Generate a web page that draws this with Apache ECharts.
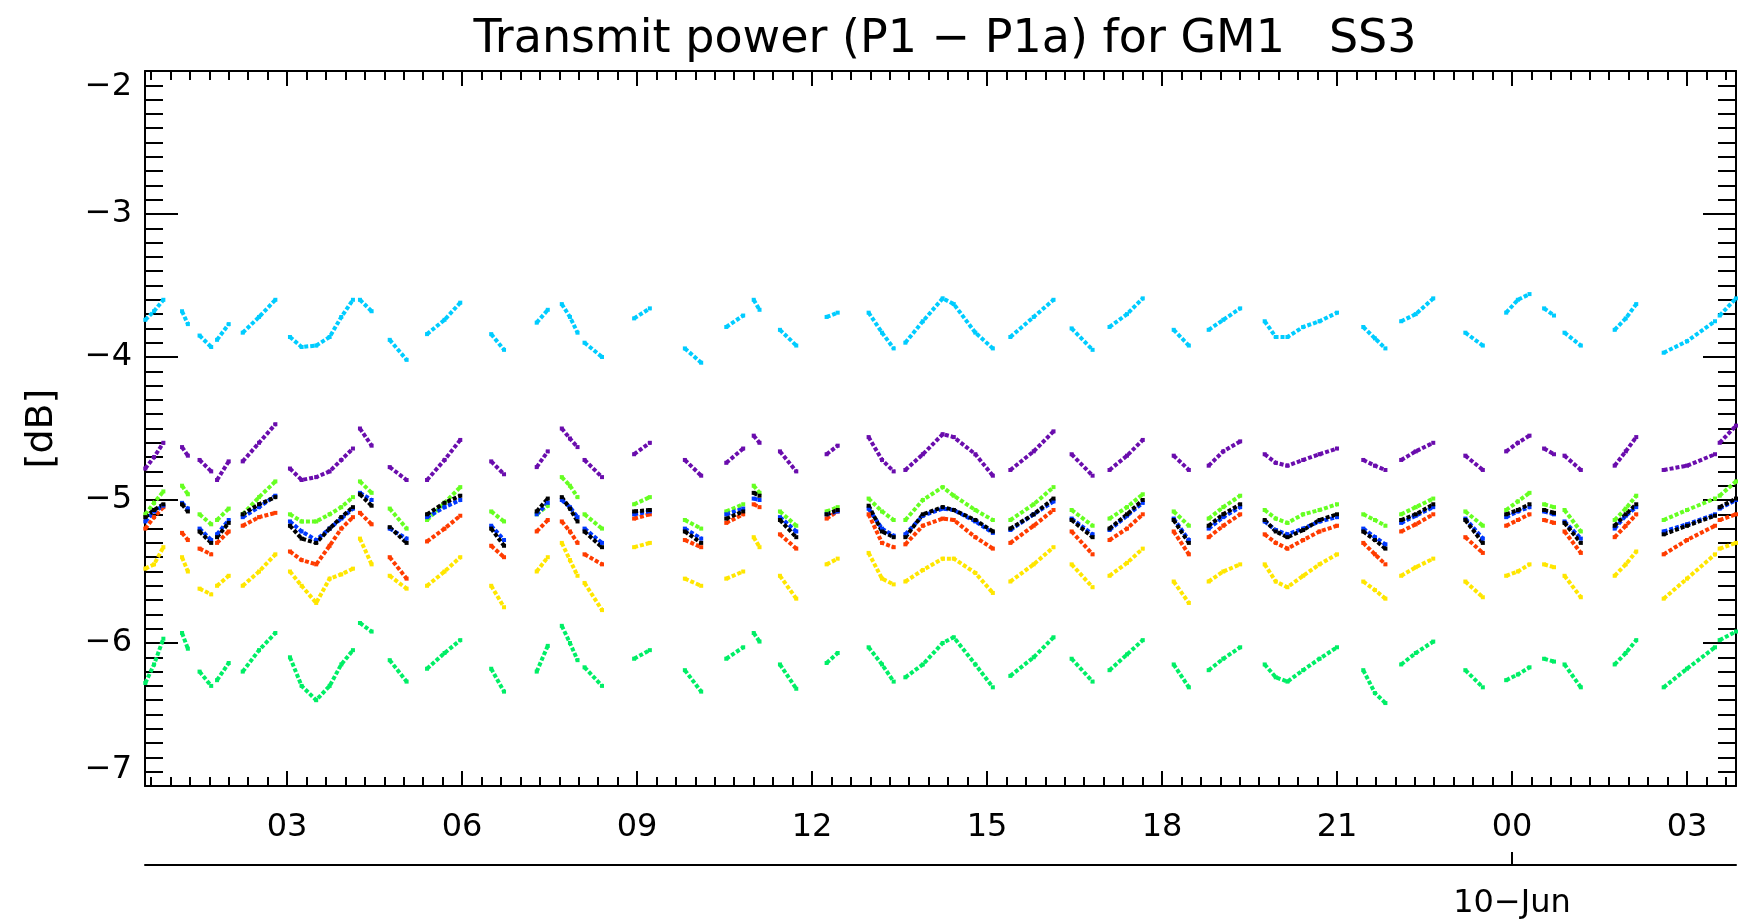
<!DOCTYPE html>
<html>
<head>
<meta charset="utf-8">
<script src="https://cdn.jsdelivr.net/npm/echarts@6/dist/echarts.min.js"></script>
<style>
  html, body { margin: 0; padding: 0; background: #ffffff; }
  #chart { width: 1739px; height: 920px; }
</style>
</head>
<body>
<div id="chart"></div>
<script>
// Sample times of each pass, in hours since 9 Jun 00:00 UTC
const passHours = [
  [0.57, 0.72, 0.88],
  [1.20, 1.30],
  [1.50, 1.70],
  [1.80, 2.00],
  [2.24, 2.52, 2.80],
  [3.05, 3.25, 3.50, 3.73, 3.93, 4.13],
  [4.25, 4.45],
  [4.76, 5.05],
  [5.40, 5.70, 5.97],
  [6.50, 6.72],
  [7.28, 7.47],
  [7.71, 7.85, 7.98],
  [8.10, 8.40],
  [8.95, 9.22],
  [9.82, 10.10],
  [10.53, 10.82],
  [11.00, 11.10],
  [11.45, 11.73],
  [12.25, 12.44],
  [12.97, 13.20, 13.40],
  [13.60, 13.90, 14.24, 14.43, 14.80, 15.10],
  [15.40, 15.80, 16.14],
  [16.45, 16.81],
  [17.10, 17.40, 17.67],
  [18.20, 18.46],
  [18.80, 19.05, 19.34],
  [19.76, 19.95, 20.15, 20.42, 20.70, 21.00],
  [21.45, 21.65, 21.83],
  [22.10, 22.35, 22.65],
  [23.20, 23.50],
  [23.90, 24.10, 24.30],
  [24.55, 24.72],
  [24.90, 25.18],
  [25.76, 25.95, 26.13],
  [26.60, 27.00, 27.48],
  [27.56, 27.84]
];

// Transmit power difference per channel [dB], one row per pass
const cyanDb = [
  [-3.74, -3.68, -3.60], [-3.68, -3.77], [-3.85, -3.93], [-3.88, -3.77], [-3.83, -3.72, -3.60],
  [-3.86, -3.93, -3.92, -3.86, -3.72, -3.60], [-3.60, -3.68], [-3.88, -4.02], [-3.84, -3.74, -3.62],
  [-3.84, -3.95], [-3.76, -3.67], [-3.63, -3.72, -3.83], [-3.90, -4.00],
  [-3.73, -3.66], [-3.94, -4.04], [-3.79, -3.71], [-3.60, -3.67], [-3.81, -3.92], [-3.72, -3.69],
  [-3.69, -3.83, -3.94], [-3.90, -3.75, -3.59, -3.63, -3.83, -3.94], [-3.86, -3.72, -3.60],
  [-3.80, -3.95], [-3.79, -3.70, -3.59], [-3.81, -3.92], [-3.81, -3.74, -3.66],
  [-3.75, -3.86, -3.86, -3.79, -3.75, -3.69], [-3.79, -3.87, -3.94], [-3.75, -3.70, -3.59],
  [-3.83, -3.92], [-3.69, -3.60, -3.56], [-3.66, -3.71], [-3.83, -3.92], [-3.81, -3.73, -3.63],
  [-3.97, -3.89, -3.75], [-3.71, -3.59]
];
const purpleDb = [
  [-4.78, -4.70, -4.60], [-4.63, -4.69], [-4.72, -4.80], [-4.86, -4.73], [-4.73, -4.60, -4.47],
  [-4.78, -4.86, -4.84, -4.80, -4.72, -4.64], [-4.50, -4.62], [-4.77, -4.86], [-4.86, -4.72, -4.58],
  [-4.73, -4.82], [-4.77, -4.66], [-4.50, -4.57, -4.63], [-4.72, -4.84],
  [-4.68, -4.60], [-4.72, -4.83], [-4.74, -4.64], [-4.55, -4.60], [-4.66, -4.80], [-4.68, -4.62],
  [-4.56, -4.72, -4.80], [-4.79, -4.68, -4.54, -4.56, -4.68, -4.83], [-4.79, -4.66, -4.52],
  [-4.68, -4.83], [-4.79, -4.69, -4.58], [-4.69, -4.79], [-4.76, -4.66, -4.59],
  [-4.68, -4.74, -4.76, -4.72, -4.68, -4.64], [-4.72, -4.76, -4.79], [-4.72, -4.66, -4.60],
  [-4.69, -4.79], [-4.66, -4.60, -4.55], [-4.64, -4.68], [-4.69, -4.79], [-4.76, -4.66, -4.56],
  [-4.79, -4.76, -4.68], [-4.60, -4.48]
];
const limeDb = [
  [-5.10, -5.02, -4.94], [-4.90, -4.96], [-5.10, -5.17], [-5.14, -5.06], [-5.10, -4.98, -4.87],
  [-5.10, -5.15, -5.15, -5.10, -5.05, -4.98], [-4.87, -4.95], [-5.06, -5.20], [-5.14, -5.02, -4.91],
  [-5.08, -5.15], [-5.10, -5.04], [-4.84, -4.90, -4.98], [-5.10, -5.20],
  [-5.03, -4.98], [-5.14, -5.20], [-5.08, -5.03], [-4.90, -4.95], [-5.08, -5.18], [-5.08, -5.05],
  [-4.99, -5.08, -5.14], [-5.14, -5.00, -4.91, -4.97, -5.07, -5.14], [-5.14, -5.03, -4.91],
  [-5.07, -5.18], [-5.13, -5.05, -4.96], [-5.08, -5.18], [-5.13, -5.05, -4.97],
  [-5.07, -5.13, -5.16, -5.10, -5.07, -5.03], [-5.10, -5.14, -5.18], [-5.10, -5.05, -4.99],
  [-5.08, -5.18], [-5.07, -5.01, -4.95], [-5.03, -5.05], [-5.07, -5.22], [-5.14, -5.06, -4.97],
  [-5.14, -5.07, -4.99], [-4.97, -4.87]
];
const blackDb = [
  [-5.12, -5.07, -5.03], [-5.03, -5.08], [-5.22, -5.30], [-5.26, -5.16], [-5.10, -5.03, -4.98],
  [-5.18, -5.27, -5.30, -5.20, -5.12, -5.05], [-4.96, -5.04], [-5.19, -5.30], [-5.10, -5.02, -4.97],
  [-5.20, -5.32], [-5.08, -4.99], [-4.98, -5.06, -5.15], [-5.22, -5.33],
  [-5.08, -5.07], [-5.22, -5.30], [-5.13, -5.08], [-4.95, -4.97], [-5.14, -5.26], [-5.10, -5.07],
  [-5.04, -5.22, -5.26], [-5.26, -5.10, -5.05, -5.07, -5.14, -5.22], [-5.20, -5.10, -4.99],
  [-5.14, -5.26], [-5.20, -5.10, -5.00], [-5.14, -5.30], [-5.18, -5.10, -5.03],
  [-5.14, -5.22, -5.26, -5.21, -5.14, -5.10], [-5.22, -5.28, -5.34], [-5.14, -5.10, -5.03],
  [-5.14, -5.30], [-5.10, -5.07, -5.03], [-5.07, -5.09], [-5.16, -5.30], [-5.18, -5.10, -5.03],
  [-5.24, -5.18, -5.11], [-5.05, -4.99]
];
const blueDb = [
  [-5.15, -5.08, -5.04], [-5.02, -5.06], [-5.20, -5.28], [-5.24, -5.14], [-5.12, -5.05, -4.97],
  [-5.15, -5.22, -5.28, -5.20, -5.13, -5.06], [-4.95, -5.00], [-5.20, -5.27], [-5.12, -5.05, -5.00],
  [-5.18, -5.28], [-5.10, -5.02], [-5.00, -5.05, -5.12], [-5.20, -5.30],
  [-5.10, -5.08], [-5.20, -5.27], [-5.10, -5.06], [-4.99, -5.00], [-5.12, -5.22], [-5.10, -5.08],
  [-5.06, -5.20, -5.25], [-5.24, -5.11, -5.06, -5.07, -5.15, -5.23], [-5.21, -5.10, -5.01],
  [-5.13, -5.24], [-5.21, -5.11, -5.02], [-5.13, -5.28], [-5.20, -5.12, -5.05],
  [-5.15, -5.21, -5.24, -5.20, -5.15, -5.12], [-5.20, -5.26, -5.31], [-5.16, -5.11, -5.05],
  [-5.13, -5.27], [-5.12, -5.08, -5.05], [-5.08, -5.10], [-5.15, -5.27], [-5.20, -5.11, -5.05],
  [-5.22, -5.17, -5.10], [-5.06, -5.00]
];
const redDb = [
  [-5.20, -5.12, -5.05], [-5.23, -5.28], [-5.34, -5.38], [-5.30, -5.22], [-5.18, -5.12, -5.09],
  [-5.36, -5.42, -5.45, -5.32, -5.20, -5.12], [-5.09, -5.17], [-5.40, -5.55], [-5.29, -5.20, -5.11],
  [-5.32, -5.40], [-5.22, -5.14], [-5.15, -5.22, -5.30], [-5.38, -5.45],
  [-5.13, -5.10], [-5.28, -5.33], [-5.16, -5.10], [-5.03, -5.05], [-5.24, -5.34], [-5.13, -5.08],
  [-5.10, -5.30, -5.33], [-5.31, -5.18, -5.13, -5.14, -5.26, -5.34], [-5.30, -5.18, -5.07],
  [-5.22, -5.38], [-5.28, -5.20, -5.10], [-5.22, -5.38], [-5.26, -5.18, -5.10],
  [-5.24, -5.30, -5.34, -5.28, -5.22, -5.18], [-5.30, -5.38, -5.45], [-5.22, -5.17, -5.10],
  [-5.26, -5.37], [-5.18, -5.14, -5.10], [-5.14, -5.16], [-5.22, -5.37], [-5.26, -5.18, -5.10],
  [-5.38, -5.28, -5.18], [-5.14, -5.10]
];
const yellowDb = [
  [-5.48, -5.45, -5.33], [-5.40, -5.50], [-5.62, -5.66], [-5.60, -5.53], [-5.60, -5.50, -5.38],
  [-5.50, -5.60, -5.72, -5.55, -5.52, -5.48], [-5.27, -5.45], [-5.53, -5.62], [-5.60, -5.50, -5.40],
  [-5.60, -5.75], [-5.50, -5.40], [-5.30, -5.42, -5.53], [-5.58, -5.77],
  [-5.33, -5.30], [-5.55, -5.60], [-5.55, -5.50], [-5.26, -5.33], [-5.53, -5.69], [-5.45, -5.41],
  [-5.37, -5.55, -5.59], [-5.57, -5.49, -5.41, -5.41, -5.51, -5.65], [-5.57, -5.45, -5.33],
  [-5.45, -5.61], [-5.53, -5.44, -5.34], [-5.57, -5.72], [-5.57, -5.50, -5.45],
  [-5.45, -5.57, -5.61, -5.53, -5.45, -5.38], [-5.57, -5.63, -5.69], [-5.53, -5.47, -5.41],
  [-5.57, -5.68], [-5.53, -5.50, -5.45], [-5.45, -5.47], [-5.53, -5.68], [-5.53, -5.45, -5.36],
  [-5.69, -5.55, -5.38], [-5.34, -5.30]
];
const springDb = [
  [-6.28, -6.15, -5.97], [-5.93, -6.04], [-6.20, -6.30], [-6.26, -6.14], [-6.20, -6.05, -5.93],
  [-6.10, -6.30, -6.40, -6.30, -6.15, -6.05], [-5.86, -5.92], [-6.12, -6.27], [-6.18, -6.07, -5.98],
  [-6.18, -6.34], [-6.20, -6.02], [-5.88, -6.00, -6.12], [-6.17, -6.30],
  [-6.11, -6.05], [-6.19, -6.34], [-6.11, -6.03], [-5.93, -5.99], [-6.15, -6.32], [-6.14, -6.07],
  [-6.03, -6.15, -6.27], [-6.24, -6.15, -6.00, -5.96, -6.15, -6.31], [-6.23, -6.10, -5.96],
  [-6.11, -6.27], [-6.19, -6.08, -5.98], [-6.15, -6.31], [-6.19, -6.11, -6.03],
  [-6.15, -6.24, -6.27, -6.19, -6.11, -6.03], [-6.19, -6.35, -6.42], [-6.15, -6.07, -5.99],
  [-6.19, -6.31], [-6.26, -6.22, -6.17], [-6.11, -6.13], [-6.15, -6.31], [-6.15, -6.07, -5.98],
  [-6.31, -6.18, -6.03], [-5.98, -5.92]
];

// Time axis ticks and labels
const hourTicks = [3, 6, 9, 12, 15, 18, 21, 24, 27];
const hourLabels = ['03', '06', '09', '12', '15', '18', '21', '00', '03'];
const dayTicks = [24];
const dayLabels = ['10\u2212Jun'];
const timeRange = [0.565, 27.84];

const channels = [
  { name: 'ch1', color: '#00ccff', values: cyanDb },
  { name: 'ch2', color: '#6a0dad', values: purpleDb },
  { name: 'ch3', color: '#00ee66', values: springDb },
  { name: 'ch4', color: '#ffe600', values: yellowDb },
  { name: 'ch5', color: '#66ff22', values: limeDb },
  { name: 'ch6', color: '#ff3c00', values: redDb },
  { name: 'ch7', color: '#0038ff', values: blueDb },
  { name: 'ch8', color: '#000000', values: blackDb }
];

// Join passes into one track, with a gap between consecutive passes
function track(values) {
  const out = [];
  passHours.forEach((hours, i) => {
    hours.forEach((h, j) => out.push([h, values[i][j]]));
    out.push([hours[hours.length - 1], null]);
  });
  return out;
}

// Minor time ticks every 20 minutes
const minorHours = [];
for (let m = 40; m / 60 <= timeRange[1]; m += 20) minorHours.push(m / 60);

const FONT = "'DejaVu Sans', sans-serif";
const black = '#000000';
const line = { color: black, width: 2 };

function timeAxis(extra) {
  return Object.assign({
    type: 'value',
    min: timeRange[0],
    max: timeRange[1],
    gridIndex: 0,
    axisLine: { show: false },
    axisLabel: { show: false },
    axisTick: { show: false },
    splitLine: { show: false },
    minorTick: { show: false },
    minorSplitLine: { show: false }
  }, extra);
}

function dbAxis(extra) {
  return Object.assign({
    type: 'value',
    min: -7,
    max: -2,
    interval: 1,
    axisLine: { show: true, lineStyle: line },
    axisTick: { show: true, inside: true, length: 33, lineStyle: line },
    minorTick: { show: true, splitNumber: 10, length: 18, lineStyle: line },
    splitLine: { show: false },
    minorSplitLine: { show: false }
  }, extra);
}

const chart = echarts.init(document.getElementById('chart'), null, { renderer: 'canvas' });

chart.setOption({
  animation: false,
  backgroundColor: '#ffffff',
  title: {
    text: 'Transmit power (P1 \u2212 P1a) for GM1   SS3',
    left: 940,
    textAlign: 'center',
    top: 12,
    textStyle: { fontFamily: FONT, fontSize: 46, fontWeight: 'normal', color: black }
  },
  grid: { left: 145, top: 71, width: 1591, height: 716, containLabel: false },
  xAxis: [
    timeAxis({
      position: 'bottom',
      axisLine: { show: true, onZero: false, lineStyle: line },
      axisTick: { show: true, inside: true, length: 15, lineStyle: line, customValues: hourTicks },
      axisLabel: {
        show: true, customValues: hourTicks, margin: 26,
        fontFamily: FONT, fontSize: 32, color: black,
        formatter: (v) => hourLabels[hourTicks.indexOf(Math.round(v))]
      }
    }),
    timeAxis({
      position: 'bottom',
      axisTick: { show: true, inside: true, length: 9, lineStyle: line, customValues: minorHours }
    }),
    timeAxis({
      position: 'top',
      axisLine: { show: true, onZero: false, lineStyle: line },
      axisTick: { show: true, inside: true, length: 15, lineStyle: line, customValues: hourTicks }
    }),
    timeAxis({
      position: 'top',
      axisTick: { show: true, inside: true, length: 9, lineStyle: line, customValues: minorHours }
    }),
    timeAxis({
      position: 'bottom',
      offset: 79,
      axisLine: { show: true, onZero: false, lineStyle: line },
      axisTick: { show: true, inside: true, length: 13, lineStyle: line, customValues: dayTicks },
      axisLabel: {
        show: true, customValues: dayTicks, margin: 23,
        fontFamily: FONT, fontSize: 32, color: black,
        formatter: (v) => dayLabels[dayTicks.indexOf(Math.round(v))]
      }
    })
  ],
  yAxis: [
    dbAxis({
      position: 'left',
      name: '[dB]',
      nameLocation: 'middle',
      nameRotate: 90,
      nameGap: 84,
      nameTextStyle: { fontFamily: FONT, fontSize: 38, color: black },
      axisLabel: {
        show: true, margin: 13, fontFamily: FONT, fontSize: 32, color: black,
        verticalAlignMinLabel: 'bottom', verticalAlignMaxLabel: 'top',
        formatter: (v) => (v < 0 ? '\u2212' : '') + Math.abs(v)
      }
    }),
    dbAxis({ position: 'right', axisLabel: { show: false } })
  ],
  // Each channel is a dotted trail of samples, broken between passes
  series: channels.map((c) => ({
    name: c.name,
    type: 'line',
    xAxisIndex: 0,
    yAxisIndex: 0,
    data: track(c.values),
    connectNulls: false,
    showSymbol: true,
    symbol: 'rect',
    symbolSize: 4,
    itemStyle: { color: c.color },
    lineStyle: { color: c.color, width: 4, type: [4, 2] },
    emphasis: { disabled: true },
    silent: true
  }))
});
</script>
</body>
</html>
